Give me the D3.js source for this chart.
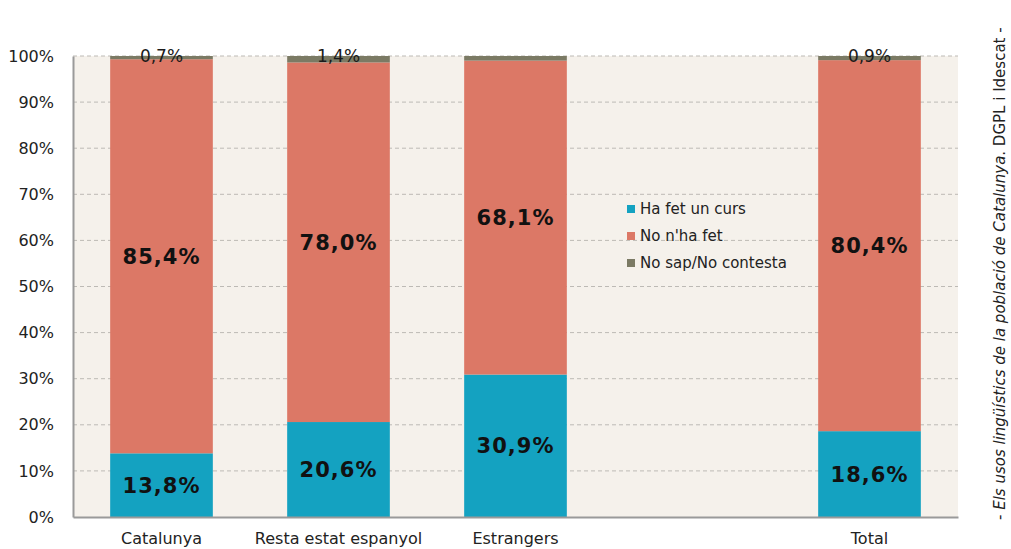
<!DOCTYPE html>
<html>
<head>
<meta charset="utf-8">
<script src="https://cdn.jsdelivr.net/npm/d3@7"></script>
<style>
  body { margin: 0; background: #fff; }
  text { font-family: "DejaVu Sans", Verdana, sans-serif; }
</style>
</head>
<body>
<div class="chart"></div>
<script>
// categories (the empty slot keeps the gap before Total)
const categories = ["Catalunya", "Resta estat espanyol", "Estrangers", "", "Total"];
const series = ["Ha fet un curs", "No n'ha fet", "No sap/No contesta"];
const hafet = [13.8, 20.6, 30.9, null, 18.6];
const nohafet = [85.4, 78.0, 68.1, null, 80.4];
const nosap = [0.7, 1.4, 1.0, null, 0.9];
const topLabels = ["0,7%", "1,4%", "", "", "0,9%"];
const yTicks = [0, 10, 20, 30, 40, 50, 60, 70, 80, 90, 100];
const colors = ["#14a2c1", "#dc7866", "#7b7a64"];
const source = "Els usos lingüístics de la població de Catalunya";

const svg = d3.select(".chart").append("svg")
  .attr("width", 1011)
  .attr("height", 549);

const margin = {top: 56, right: 53, bottom: 32, left: 73};
const width = 1011 - margin.left - margin.right;
const height = 549 - margin.top - margin.bottom;

const g = svg.append("g")
  .attr("transform", `translate(${margin.left},${margin.top})`);

const x = d3.scaleBand().domain(categories.map((c, i) => i)).range([0, width]).paddingInner(0.42).paddingOuter(0.21);
const y = d3.scaleLinear().domain([0, 100]).range([height, 0]);

// plot background
g.append("rect")
  .attr("width", width)
  .attr("height", height)
  .attr("fill", "#f5f1eb");

// dashed grid
g.selectAll(".grid")
  .data(yTicks.slice(1))
  .enter().append("line")
  .attr("x1", 0).attr("x2", width)
  .attr("y1", d => y(d)).attr("y2", d => y(d))
  .attr("stroke", "#bdbab5")
  .attr("stroke-dasharray", "4,3");

const rows = categories.map((c, i) => ({i: i, a: hafet[i], b: nohafet[i], c: nosap[i]}))
  .filter(d => d.a != null);

const stack = d3.stack().keys(["a", "b", "c"]).offset(d3.stackOffsetExpand);
const layers = stack(rows);

layers.forEach((layer, k) => {
  g.selectAll(".bar" + k)
    .data(layer)
    .enter().append("rect")
    .attr("x", d => x(d.data.i))
    .attr("width", x.bandwidth())
    .attr("y", d => y(d[1] * 100))
    .attr("height", d => y(d[0] * 100) - y(d[1] * 100))
    .attr("fill", colors[k]);
});

// value labels in the two main segments
layers.slice(0, 2).forEach((layer, k) => {
  g.selectAll(".lab" + k)
    .data(layer)
    .enter().append("text")
    .attr("x", d => x(d.data.i) + x.bandwidth() / 2)
    .attr("y", d => y((d[0] + d[1]) * 50))
    .attr("dy", "0.36em")
    .attr("text-anchor", "middle")
    .attr("font-size", 21)
    .attr("font-weight", "bold")
    .attr("letter-spacing", 1)
    .attr("fill", "#111")
    .text(d => d3.format(".1f")(k == 0 ? d.data.a : d.data.b).replace(".", ",") + "%");
});

// small labels on top
g.selectAll(".toplab")
  .data(rows)
  .enter().append("text")
  .attr("x", d => x(d.i) + x.bandwidth() / 2)
  .attr("y", y(100) + 6)
  .attr("text-anchor", "middle")
  .attr("font-size", 17)
  .attr("fill", "#1a1a1a")
  .text(d => topLabels[d.i]);

// axes
const yAxis = g.append("g")
  .call(d3.axisLeft(y).tickValues(yTicks).tickSize(0).tickPadding(19).tickFormat(d => d + "%"));
yAxis.select(".domain").attr("stroke", "#9a9a9a").attr("stroke-width", 2);
yAxis.selectAll("text").attr("font-size", 16).attr("fill", "#222");

const xAxis = g.append("g")
  .attr("transform", `translate(0,${height})`)
  .call(d3.axisBottom(x).tickSize(0).tickPadding(16).tickFormat(i => categories[i]));
xAxis.select(".domain").attr("stroke", "#9a9a9a").attr("stroke-width", 2);
xAxis.selectAll("text").attr("font-size", 16).attr("fill", "#222");

// legend
const legend = g.append("g").attr("transform", "translate(554,153)");
series.forEach((s, k) => {
  legend.append("rect")
    .attr("x", 0).attr("y", k * 27 - 4)
    .attr("width", 8).attr("height", 8)
    .attr("fill", colors[k]);
  legend.append("text")
    .attr("x", 13).attr("y", k * 27)
    .attr("dy", "0.35em")
    .attr("font-size", 15)
    .attr("fill", "#222")
    .text(s);
});

// source, rotated on the right
const src = svg.append("text")
  .attr("transform", "translate(1005,520) rotate(-90)")
  .attr("font-size", 15)
  .attr("fill", "#222");
src.append("tspan").text("- ");
src.append("tspan").attr("font-style", "italic").text(source);
src.append("tspan").text(". DGPL i Idescat -");
</script>
</body>
</html>
